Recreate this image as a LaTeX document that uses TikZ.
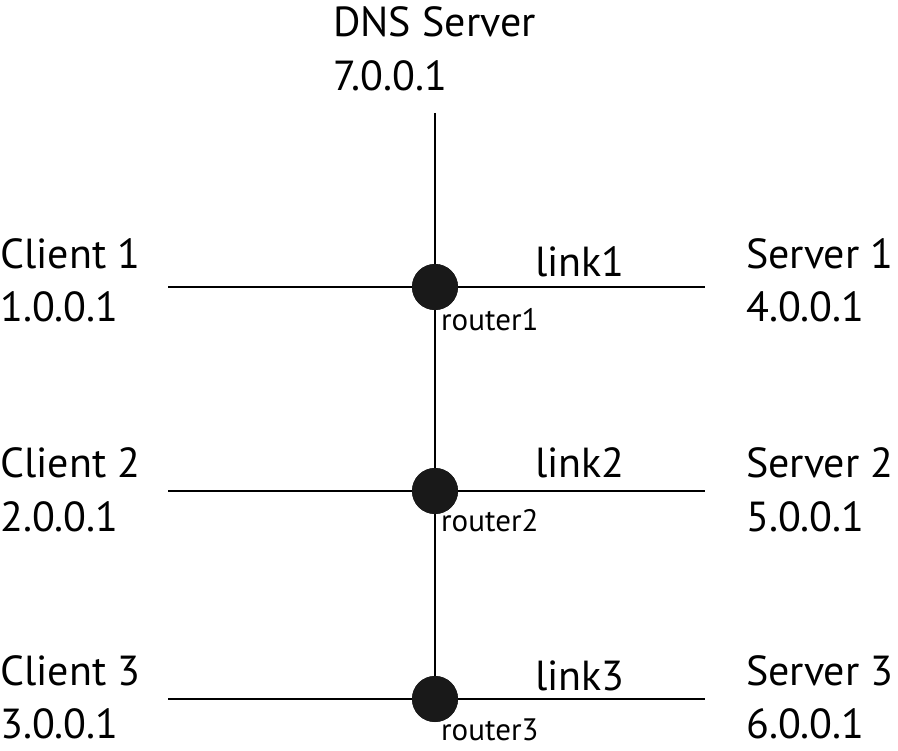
\documentclass[tikz,border=0pt]{standalone}
\usepackage{fontspec}
\setmainfont{PT Sans}
\begin{document}
\begin{tikzpicture}[x=1pt,y=-1pt,
  lbl/.style={anchor=base west,inner sep=0pt,font=\fontsize{42}{42}\selectfont},
  rlbl/.style={anchor=base west,inner sep=0pt,font=\fontsize{31}{31}\selectfont},
  router/.style={circle,fill=black!90,minimum size=46pt,inner sep=0pt},
  wire/.style={line width=2pt}]
\useasboundingbox (0,0) rectangle (898,751);
% routers
\coordinate (dnsend) at (435,113);
\node[router] (r1) at (435,287) {};
\node[router] (r2) at (435,491) {};
\node[router] (r3) at (435,699) {};
\coordinate (c1) at (168,287); \coordinate (s1) at (705,287);
\coordinate (c2) at (168,491); \coordinate (s2) at (705,491);
\coordinate (c3) at (168,699); \coordinate (s3) at (705,699);
\draw[wire] (dnsend) -- (r1.center) -- (r2.center) -- (r3.center);
\draw[wire] (c1) -- (s1);
\draw[wire] (c2) -- (s2);
\draw[wire] (c3) -- (s3);
\node[router] at (r1) {};
\node[router] at (r2) {};
\node[router] at (r3) {};
% labels
\node[lbl] (dns) at (333,37) {DNS Server};
\node[lbl] (dnsip) at (333,91) {7.0.0.1};
\node[lbl] (cl1) at (0,269) {Client 1};
\node[lbl] (cl1ip) at (0,322) {1.0.0.1};
\node[lbl] (sv1) at (746,269) {Server 1};
\node[lbl] (sv1ip) at (746,322) {4.0.0.1};
\node[lbl] (lk1) at (535,277) {link1};
\node[rlbl] (rt1) at (441,331) {router1};
\node[lbl] (cl2) at (0,478) {Client 2};
\node[lbl] (cl2ip) at (0,532) {2.0.0.1};
\node[lbl] (sv2) at (746,478) {Server 2};
\node[lbl] (sv2ip) at (746,532) {5.0.0.1};
\node[lbl] (lk2) at (535,478) {link2};
\node[rlbl] (rt2) at (441,532) {router2};
\node[lbl] (cl3) at (0,685) {Client 3};
\node[lbl] (cl3ip) at (0,738) {3.0.0.1};
\node[lbl] (sv3) at (746,685) {Server 3};
\node[lbl] (sv3ip) at (746,738) {6.0.0.1};
\node[lbl] (lk3) at (535,690) {link3};
\node[rlbl] (rt3) at (441,740) {router3};
\end{tikzpicture}
\end{document}
